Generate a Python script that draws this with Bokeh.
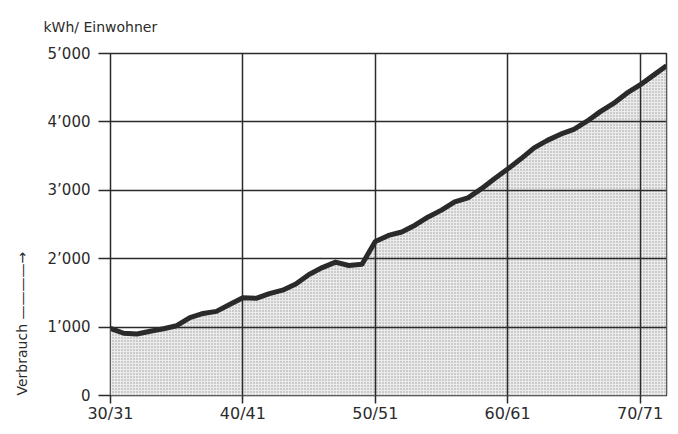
from bokeh.plotting import figure
from bokeh.models import Range1d, FixedTicker, ColumnDataSource, Title
from bokeh.embed import file_html
from bokeh.resources import INLINE

# fiscal-year start (30 = 30/31)
years = list(range(30, 73))
consumption = [980, 910, 900, 940, 975, 1020, 1140, 1200, 1230, 1330,
               1430, 1420, 1490, 1540, 1630, 1770, 1870, 1950, 1900, 1920,
               2250, 2340, 2390, 2490, 2610, 2710, 2830, 2890, 3020, 3170,
               3310, 3460, 3620, 3730, 3820, 3890, 4010, 4150, 4270, 4420,
               4540, 4680, 4820]
x_ticks = [30, 40, 50, 60, 70]
x_tick_labels = ["30/31", "40/41", "50/51", "60/61", "70/71"]
y_ticks = [0, 1000, 2000, 3000, 4000, 5000]
y_tick_labels = ["0", "1’000", "2’000", "3’000", "4’000", "5’000"]

FONT = "DejaVu Sans"
INK = "#2b2b2b"

src = ColumnDataSource(dict(x=years, y=consumption, base=[0] * len(years)))

p = figure(width=676, height=432, output_backend="svg", toolbar_location=None,
           x_range=Range1d(30, 72), y_range=Range1d(0, 5000),
           min_border_left=110, min_border_right=10, min_border_top=53,
           min_border_bottom=37)
p.background_fill_color = "white"
p.border_fill_color = "white"
p.outline_line_color = INK
p.outline_line_width = 1.5

p.varea(x="x", y1="base", y2="y", source=src, fill_color="#ebebeb",
        hatch_pattern="dot", hatch_color="#9a9a9a", hatch_scale=3,
        hatch_weight=1, level="image")
p.line(x="x", y="y", source=src, line_color="#2a2a2a", line_width=5,
       line_join="round")

# axes
p.xaxis.ticker = FixedTicker(ticks=x_ticks)
p.xaxis.major_label_overrides = dict(zip(x_ticks, x_tick_labels))
p.yaxis.ticker = FixedTicker(ticks=y_ticks)
p.yaxis.major_label_overrides = dict(zip(y_ticks, y_tick_labels))
for ax in (p.xaxis[0], p.yaxis[0]):
    ax.axis_line_color = None
    ax.minor_tick_line_color = None
    ax.major_tick_in = 0
    ax.major_tick_line_color = INK
    ax.major_tick_line_width = 1.5
    ax.major_label_text_font = FONT
    ax.major_label_text_color = INK
p.xaxis.major_label_text_font_size = "16px"
p.yaxis.major_label_text_font_size = "15px"
p.xaxis.major_tick_out = 8
p.xaxis.major_label_standoff = 0
p.yaxis.major_tick_out = 12
p.yaxis.major_label_standoff = 8

p.xgrid.ticker = FixedTicker(ticks=x_ticks)
p.ygrid.ticker = FixedTicker(ticks=y_ticks)
for g in (p.xgrid[0], p.ygrid[0]):
    g.grid_line_color = INK
    g.grid_line_width = 1.5
    g.grid_line_alpha = 1.0

# unit title
p.title.text = "kWh/ Einwohner"
p.title.align = "left"
p.title.vertical_align = "top"
p.title.offset = -67
p.title.text_font = FONT
p.title.text_font_size = "14px"
p.title.text_font_style = "normal"
p.title.text_color = INK
p.title.standoff = 34

# vertical "Verbrauch" label with arrow
p.add_layout(Title(text="Verbrauch " + "\u2014" * 4 + "\u2192", align="left",
                   vertical_align="top", text_font=FONT,
                   text_font_size="14px", text_font_style="normal",
                   text_color=INK, standoff=26),
             "left")

open("out.html", "w").write(file_html(p, INLINE))
